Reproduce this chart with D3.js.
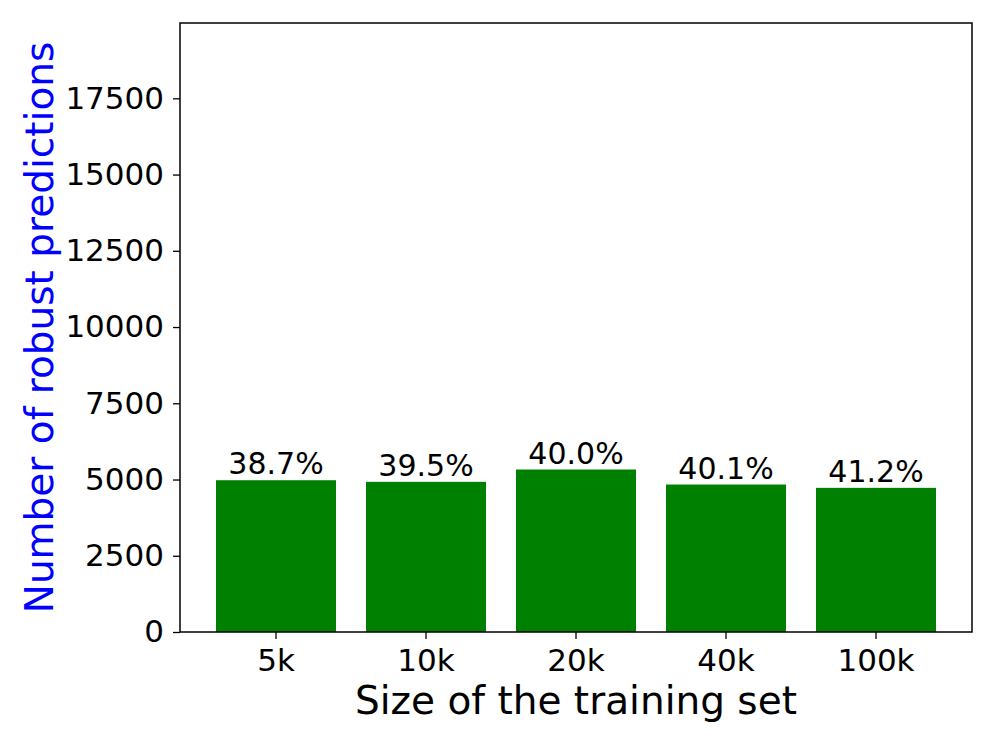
<!DOCTYPE html>
<html>
<head>
<meta charset="utf-8">
<script src="https://cdn.jsdelivr.net/npm/d3@7"></script>
<style>
  body { margin: 0; background: #fff; }
  svg text { font-family: "DejaVu Sans", sans-serif; }
</style>
</head>
<body>
<svg id="chart" width="996" height="747"></svg>
<script>
// data
let sizes = ["5k", "10k", "20k", "40k", "100k"];
let robustCounts = [4977, 4924, 5328, 4836, 4727];
let percentLabels = ["38.7%", "39.5%", "40.0%", "40.1%", "41.2%"];
let yTicks = [0, 2500, 5000, 7500, 10000, 12500, 15000, 17500];

let svg = d3.select("#chart");
let margin = { left: 180, right: 24, top: 23, bottom: 115 };
let width = +svg.attr("width");
let height = +svg.attr("height");

// Setup scales.
let xScale = d3.scaleBand()
    .domain(sizes)
    .range([margin.left, width - margin.right])
    .paddingInner(0.2)
    .paddingOuter(0.24);

let yScale = d3.scaleLinear()
    .domain([0, 19970])
    .range([height - margin.bottom, margin.top]);

// Bars.
svg.selectAll("rect.bar")
    .data(sizes)
    .enter()
    .append("rect")
    .attr("class", "bar")
    .attr("x", d => xScale(d))
    .attr("y", (d, i) => yScale(robustCounts[i]))
    .attr("width", xScale.bandwidth())
    .attr("height", (d, i) => yScale(0) - yScale(robustCounts[i]))
    .attr("fill", "#008000");

// Percent labels above bars.
svg.selectAll("text.pct")
    .data(sizes)
    .enter()
    .append("text")
    .attr("class", "pct")
    .attr("x", d => xScale(d) + xScale.bandwidth() / 2)
    .attr("y", (d, i) => yScale(robustCounts[i]) - 6)
    .style("text-anchor", "middle")
    .style("font-size", "30px")
    .style("fill", "#000")
    .text((d, i) => percentLabels[i]);

// Axes.
let xAxis = d3.axisBottom(xScale).tickSizeOuter(0).tickSize(7).tickPadding(10);
let yAxis = d3.axisLeft(yScale).tickValues(yTicks).tickFormat(d3.format("d"))
    .tickSizeOuter(0).tickSize(7).tickPadding(9);

let gx = svg.append("g")
    .attr("transform", "translate(0," + yScale(0) + ")")
    .call(xAxis);
let gy = svg.append("g")
    .attr("transform", "translate(" + margin.left + ",0)")
    .call(yAxis);

[gx, gy].forEach(g => {
    g.select(".domain").remove();
    g.selectAll(".tick line").attr("stroke", "#000").attr("stroke-width", 1.3);
    g.selectAll(".tick text")
        .style("font-family", "DejaVu Sans, sans-serif")
        .style("font-size", "31px")
        .attr("fill", "#000");
});

// Frame.
svg.append("rect")
    .attr("x", margin.left)
    .attr("y", margin.top)
    .attr("width", width - margin.left - margin.right)
    .attr("height", yScale(0) - margin.top)
    .attr("fill", "none")
    .attr("stroke", "#000")
    .attr("stroke-width", 1.5);

// Axis titles.
svg.append("text")
    .attr("x", (margin.left + width - margin.right) / 2)
    .attr("y", 714)
    .style("text-anchor", "middle")
    .style("font-size", "39px")
    .style("fill", "#000")
    .text("Size of the training set");

svg.append("text")
    .attr("transform", "translate(53," + (margin.top + (yScale(0) - margin.top) / 2) + ") rotate(-90)")
    .style("text-anchor", "middle")
    .style("font-size", "39px")
    .style("fill", "#0000ff")
    .text("Number of robust predictions");
</script>
</body>
</html>
